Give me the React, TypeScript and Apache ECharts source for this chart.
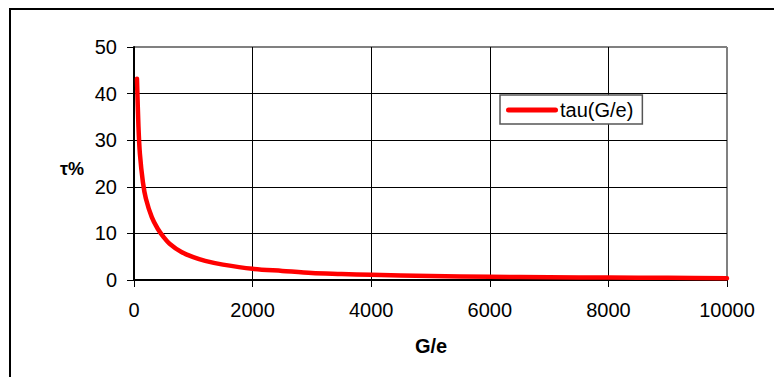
import React, { useEffect, useRef } from "react";
import * as echarts from "echarts";

const gOverE = [50, 75, 100, 150, 200, 300, 400, 500, 600, 800, 1000, 1200, 1500, 2000, 2500, 3000, 3500, 4000, 5000, 6000, 7000, 8000, 9000, 10000];
const tauValues = [43.2, 33, 27, 21, 17.5, 13.5, 11, 9.2, 7.8, 6.0, 4.9, 4.1, 3.3, 2.4, 1.95, 1.5, 1.3, 1.1, 0.85, 0.7, 0.6, 0.52, 0.46, 0.4];
const xTicks = { min: 0, max: 10000, interval: 2000 };
const yTicks = { min: 0, max: 50, interval: 10 };
const seriesName = "tau(G/e)";
const xTitle = "G/e";
const yTitle = "τ%";

const FONT = "'Liberation Sans', Arial, sans-serif";

export default function App() {
  const ref = useRef<HTMLDivElement>(null);
  useEffect(() => {
    if (!ref.current) return;
    const chart = echarts.init(ref.current, null, { renderer: "svg" });
    const data = gOverE.map((x, i) => [x, tauValues[i]]);
    chart.setOption({
      animation: false,
      backgroundColor: "#fff",
      textStyle: { fontFamily: FONT },
      grid: { left: 134, right: 47, top: 47, bottom: 97 },
      xAxis: {
        type: "value",
        min: xTicks.min,
        max: xTicks.max,
        interval: xTicks.interval,
        axisLine: { show: true, onZero: false, lineStyle: { color: "#000", width: 2 } },
        axisTick: { show: true, length: 7, lineStyle: { color: "#000", width: 1 } },
        axisLabel: { fontSize: 20, color: "#000", margin: 20, fontFamily: FONT, formatter: (v: number) => String(v) },
        splitLine: {
          show: true,
          lineStyle: { color: ["#000", "#000", "#000", "#000", "#000", "#808080"], width: 1 },
        },
      },
      yAxis: {
        type: "value",
        min: yTicks.min,
        max: yTicks.max,
        interval: yTicks.interval,
        axisLine: { show: true, lineStyle: { color: "#000", width: 2 } },
        axisTick: { show: true, length: 7, lineStyle: { color: "#000", width: 1 } },
        axisLabel: { fontSize: 20, color: "#000", margin: 17, fontFamily: FONT },
        splitLine: {
          show: true,
          lineStyle: { color: ["#000", "#000", "#000", "#000", "#000", "#808080"], width: 1 },
        },
      },
      legend: {
        show: true,
        left: 500,
        top: 95,
        orient: "vertical",
        padding: [5, 9, 4, 6],
        itemWidth: 52,
        itemHeight: 5,
        itemGap: 2,
        backgroundColor: "#fff",
        borderColor: "#555",
        borderWidth: 1.5,
        textStyle: { fontSize: 20, color: "#000", fontFamily: FONT, padding: [0, 0, 0, -3] },
        data: [
          {
            name: seriesName,
            icon: "path://M2.5,0 H49.5 A2.5,2.5 0 0 1 49.5,5 H2.5 A2.5,2.5 0 0 1 2.5,0 Z",
            itemStyle: { color: "#ff0000" },
          },
        ],
      },
      graphic: [
        {
          type: "rect",
          shape: { x: 10, y: 9, width: 800, height: 400 },
          style: { fill: "none", stroke: "#000", lineWidth: 2 },
          silent: true,
          z: 100,
        },
        {
          type: "line",
          shape: { x1: 727, y1: 47, x2: 727, y2: 280 },
          style: { stroke: "#808080", lineWidth: 2 },
          silent: true,
        },
        {
          type: "line",
          shape: { x1: 134, y1: 47, x2: 727, y2: 47 },
          style: { stroke: "#808080", lineWidth: 2 },
          silent: true,
        },
        {
          type: "text",
          x: 72,
          y: 169,
          style: { text: yTitle, fontSize: 18, fontWeight: "bold", fill: "#000", fontFamily: FONT, textAlign: "center", textVerticalAlign: "middle" },
        },
        {
          type: "text",
          x: 431,
          y: 346,
          style: { text: xTitle, fontSize: 20, fontWeight: "bold", fill: "#000", fontFamily: FONT, textAlign: "center", textVerticalAlign: "middle" },
        },
      ],
      series: [
        {
          name: seriesName,
          type: "line",
          data,
          smooth: 0.3,
          symbol: "none",
          showSymbol: false,
          lineStyle: { color: "#ff0000", width: 4.5, cap: "round", join: "round" },
          itemStyle: { color: "#ff0000" },
          z: 5,
        },
      ],
    });
    return () => chart.dispose();
  }, []);
  return <div ref={ref} style={{ position: "fixed", left: 0, top: 0, width: 774, height: 377 }} />;
}
